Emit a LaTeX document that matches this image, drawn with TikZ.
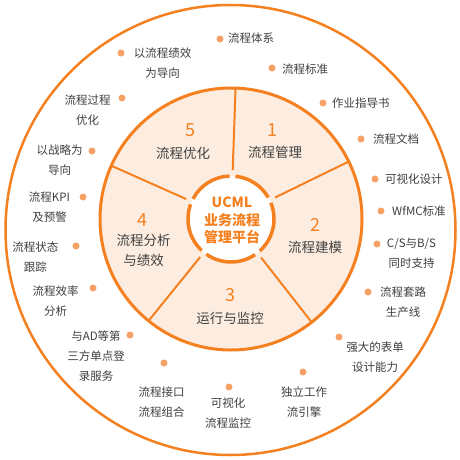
\documentclass[tikz,border=0pt]{standalone}
\usepackage{fontspec}
\setmainfont{Noto Sans CJK SC}
\definecolor{org}{RGB}{245,128,32}
\definecolor{peach}{RGB}{253,237,224}
\definecolor{dotc}{RGB}{246,162,102}
\definecolor{txt}{RGB}{64,64,64}
\begin{document}
\begin{tikzpicture}[x=1pt,y=-1pt,
  lbl/.style={font=\fontsize{11.5}{20}\selectfont, text=txt, inner sep=0pt, align=center},
  dotn/.style={circle, fill=dotc, minimum size=7pt, inner sep=0pt},
  num/.style={font=\fontsize{18}{20}\selectfont, text=org, inner sep=0pt},
  seg/.style={font=\fontsize{13.5}{20}\selectfont, text=txt, inner sep=0pt, align=center},
  spoke/.style={draw=org, line width=2pt},
  ring/.style={draw=org, line width=3.5pt},
]
\useasboundingbox (0,0) rectangle (460,460);
\node[circle, draw=org, line width=2.5pt, fill=white, minimum size=450pt, inner sep=0pt] (outer) at (230.5,230) {};
\node[circle, draw=org, line width=3pt, fill=peach, minimum size=262pt, inner sep=0pt] (mid) at (231,219) {};
\coordinate (c) at (231,219);
\fill[white] (c) circle (43);
% spokes (visual angles 88, 26, -52, -129, 156)
\foreach \a in {-88,-26,52,129,204} {
  \draw[spoke] ([shift={(c)}]\a:49) -- ([shift={(c)}]\a:131);
}
% inner ring with gaps
\draw[ring] ([shift={(c)}]-84:43) arc[start angle=-84, end angle=-30, radius=43];
\draw[ring] ([shift={(c)}]-22:43) arc[start angle=-22, end angle=48, radius=43];
\draw[ring] ([shift={(c)}]56:43) arc[start angle=56, end angle=125, radius=43];
\draw[ring] ([shift={(c)}]133:43) arc[start angle=133, end angle=200, radius=43];
\draw[ring] ([shift={(c)}]208:43) arc[start angle=208, end angle=268, radius=43];
% centre text
\node[font=\fontsize{14}{17.5}\selectfont\bfseries, text=org, align=center, inner sep=0pt] (ctr) at (232,220.5) {UCML\\业务流程\\管理平台};
% segments
\node[num] (n5) at (190,130) {5};
\node[seg] (s5) at (183,153) {流程优化};
\node[num] (n1) at (272,130) {1};
\node[seg] (s1) at (275,152) {流程管理};
\node[num] (n2) at (315,225) {2};
\node[seg] (s2) at (315,247.5) {流程建模};
\node[num] (n3) at (230,295) {3};
\node[seg] (s3) at (230,318) {运行与监控};
\node[num] (n4) at (142,220) {4};
\node[seg] (s4) at (143.5,250.5) {流程分析\\与绩效};
% outer items, right side
\node[dotn] (d1) at (220,39) {};
\node[lbl, anchor=west] (t1) at (228,38.5) {流程体系};
\node[dotn] (d2) at (272,68) {};
\node[lbl, anchor=west] (t2) at (282,69) {流程标准};
\node[dotn] (d3) at (323,103) {};
\node[lbl, anchor=west] (t3) at (332,103) {作业指导书};
\node[dotn] (d4) at (361,139) {};
\node[lbl, anchor=west] (t4) at (373,139) {流程文档};
\node[dotn] (d5) at (375,179) {};
\node[lbl, anchor=west] (t5) at (385,179) {可视化设计};
\node[dotn] (d6) at (381,211) {};
\node[lbl, anchor=west] (t6) at (392,211) {WfMC标准};
\node[dotn] (d7) at (377,244) {};
\node[lbl] (t7) at (411.5,253.5) {C/S与B/S\\同时支持};
\node[dotn] (d8) at (368,292) {};
\node[lbl] (t8) at (403,302.5) {流程套路\\生产线};
\node[dotn] (d9) at (339,337) {};
\node[lbl] (t9) at (375,357) {强大的表单\\设计能力};
\node[dotn] (d10) at (303,372) {};
\node[lbl] (t10) at (304,402) {独立工作\\流引擎};
\node[dotn] (d11) at (229,387) {};
\node[lbl] (t11) at (228,413.5) {可视化\\流程监控};
\node[dotn] (d12) at (164,363) {};
\node[lbl] (t12) at (161.5,402) {流程接口\\流程组合};
% left side
\node[dotn] (d13) at (130,335) {};
\node[lbl] (t13) at (96,356) {与AD等第\\三方单点登\\录服务};
\node[dotn] (d14) at (93,288) {};
\node[lbl] (t14) at (55.5,301.5) {流程效率\\分析};
\node[dotn] (d15) at (76,246) {};
\node[lbl] (t15) at (35.5,257) {流程状态\\跟踪};
\node[dotn] (d16) at (83,197) {};
\node[lbl] (t16) at (49.5,207) {流程KPI\\及预警};
\node[dotn] (d17) at (92,151) {};
\node[lbl] (t17) at (59.5,160.5) {以战略为\\导向};
\node[dotn] (d18) at (122,98) {};
\node[lbl] (t18) at (87.5,110.5) {流程过程\\优化};
\node[dotn] (d19) at (121,53) {};
\node[lbl] (t19) at (162.5,63) {以流程绩效\\为导向};
\end{tikzpicture}
\end{document}
